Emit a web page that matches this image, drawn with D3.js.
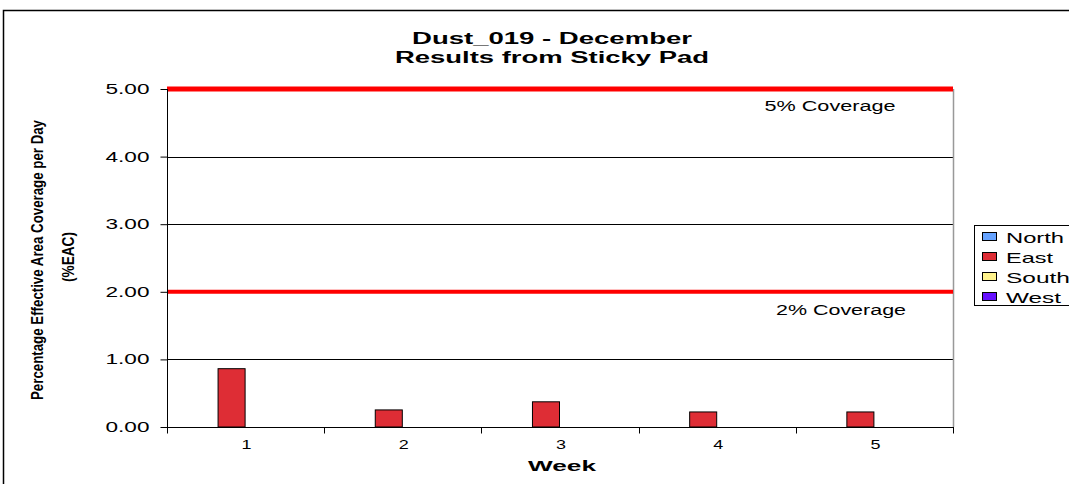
<!DOCTYPE html>
<html>
<head>
<meta charset="utf-8">
<script src="https://cdn.jsdelivr.net/npm/d3@7"></script>
<style>
  html, body { margin: 0; padding: 0; background: #fff; }
  svg { display: block; font-family: "Liberation Sans", Arial, sans-serif; }
</style>
</head>
<body>
<svg id="chart" width="1069" height="484"></svg>
<script>
const weeks = ["1", "2", "3", "4", "5"];
const seriesNames = ["North", "East", "South", "West"];
const seriesColors = ["#66a3ff", "#de2d35", "#fff38c", "#6611ff"];
const north = [0, 0, 0, 0, 0];
const east = [0.87, 0.26, 0.38, 0.23, 0.23];
const south = [0, 0, 0, 0, 0];
const west = [0, 0, 0, 0, 0];
const yTicks = [0, 1, 2, 3, 4, 5];
const thresholds = [
  { value: 5, label: "5% Coverage" },
  { value: 2, label: "2% Coverage" }
];
const titleLines = ["Dust_019 - December", "Results from Sticky Pad"];
const yTitleLines = ["Percentage Effective Area Coverage per Day", "(%EAC)"];
const xTitle = "Week";

const seriesValues = [north, east, south, west];

const svg = d3.select("#chart");
const plot = { left: 167, right: 953, top: 89, bottom: 427 };

function stretch(sel, len) {
  return sel.attr("textLength", len).attr("lengthAdjust", "spacingAndGlyphs");
}

// outer border
svg.append("rect").attr("x", 3.5).attr("y", 10.5).attr("width", 1080).attr("height", 500)
  .attr("fill", "none").attr("stroke", "#000").attr("stroke-width", 1.5);

const x = d3.scaleBand().domain(weeks).range([plot.left, plot.right]).padding(0);
const y = d3.scaleLinear().domain([0, 5]).range([plot.bottom, plot.top]);
const bandInner = x.bandwidth() * (112 / 157);
const xs = d3.scaleBand().domain(seriesNames).range([0, bandInner]).padding(0);

// gridlines
svg.append("g").selectAll("line").data(yTicks.filter(d => d > 0 && d < 5)).join("line")
  .attr("x1", plot.left).attr("x2", plot.right)
  .attr("y1", d => Math.round(y(d)) + 0.5).attr("y2", d => Math.round(y(d)) + 0.5)
  .attr("stroke", "#000").attr("stroke-width", 1);

// right border of plot
svg.append("line").attr("x1", plot.right + 0.5).attr("x2", plot.right + 0.5)
  .attr("y1", plot.top).attr("y2", plot.bottom).attr("stroke", "#999").attr("stroke-width", 1.5);

// bars
seriesNames.forEach((name, si) => {
  svg.append("g").selectAll("rect").data(weeks.map((w, i) => ({ w, v: seriesValues[si][i] })).filter(d => d.v > 0))
    .join("rect")
    .attr("x", d => x(d.w) + (x.bandwidth() - bandInner) / 2 + xs(name) + 0.5)
    .attr("y", d => y(d.v) + 0.5)
    .attr("width", xs.bandwidth() - 1)
    .attr("height", d => y(0) - y(d.v) - 0.5)
    .attr("fill", seriesColors[si])
    .attr("stroke", "#000").attr("stroke-width", 1);
});

// threshold lines
thresholds.forEach(t => {
  svg.append("line").attr("x1", plot.left).attr("x2", plot.right)
    .attr("y1", y(t.value)).attr("y2", y(t.value))
    .attr("stroke", "#ff0000").attr("stroke-width", t.value === 5 ? 5 : 4);
});
stretch(svg.append("text").attr("x", 830).attr("y", y(5) + 22).attr("text-anchor", "middle")
  .attr("font-size", 14).text(thresholds[0].label), 131);
stretch(svg.append("text").attr("x", 841).attr("y", y(2) + 23).attr("text-anchor", "middle")
  .attr("font-size", 14).text(thresholds[1].label), 130);

// y axis
const yAxis = d3.axisLeft(y).tickValues(yTicks).tickFormat(d3.format(".2f")).tickSize(7).tickPadding(11);
const gy = svg.append("g").attr("transform", `translate(${plot.left + 0.5},0)`).call(yAxis);
gy.select(".domain").attr("stroke", "#000").attr("d", `M0,${plot.top}V${plot.bottom}`);
gy.selectAll(".tick line").attr("stroke", "#000");
gy.selectAll(".tick text").attr("font-size", 14).attr("fill", "#000")
  .attr("font-family", "Liberation Sans, Arial, sans-serif")
  .attr("textLength", 44).attr("lengthAdjust", "spacingAndGlyphs");

// x axis
const gx = svg.append("g").attr("transform", `translate(0,${plot.bottom + 0.5})`);
gx.append("line").attr("x1", plot.left).attr("x2", plot.right + 1).attr("y1", 0).attr("y2", 0).attr("stroke", "#000");
const bounds = weeks.map(w => x(w)).concat([x(weeks[weeks.length - 1]) + x.bandwidth()]);
gx.selectAll("line.tk").data(bounds).join("line").attr("class", "tk")
  .attr("x1", d => Math.round(d) + 0.5).attr("x2", d => Math.round(d) + 0.5)
  .attr("y1", 0).attr("y2", 6).attr("stroke", "#000");
gx.selectAll("text").data(weeks).join("text")
  .attr("x", d => x(d) + x.bandwidth() / 2 + 1).attr("y", 21)
  .attr("text-anchor", "middle").attr("font-size", 13)
  .attr("textLength", 10).attr("lengthAdjust", "spacingAndGlyphs").text(d => d);

// titles
stretch(svg.append("text").attr("x", 552).attr("y", 44).attr("text-anchor", "middle")
  .attr("font-size", 16).attr("font-weight", "bold").text(titleLines[0]), 280);
stretch(svg.append("text").attr("x", 552).attr("y", 63).attr("text-anchor", "middle")
  .attr("font-size", 16).attr("font-weight", "bold").text(titleLines[1]), 314);

stretch(svg.append("text").attr("x", 562).attr("y", 471).attr("text-anchor", "middle")
  .attr("font-size", 15).attr("font-weight", "bold").text(xTitle), 68);

stretch(svg.append("text").attr("transform", "translate(43,260) rotate(-90)").attr("text-anchor", "middle")
  .attr("font-size", 17).attr("font-weight", "bold").text(yTitleLines[0]), 280);
stretch(svg.append("text").attr("transform", "translate(74,257) rotate(-90)").attr("text-anchor", "middle")
  .attr("font-size", 17).attr("font-weight", "bold").text(yTitleLines[1]), 50);

// legend
const lg = svg.append("g");
lg.append("rect").attr("x", 974.5).attr("y", 225.5).attr("width", 110).attr("height", 80)
  .attr("fill", "#fff").attr("stroke", "#000").attr("stroke-width", 1);
const legendWidths = [58, 47, 64, 55];
seriesNames.forEach((name, i) => {
  const cy = 237 + i * 20;
  lg.append("rect").attr("x", 982.5).attr("y", cy - 4.5).attr("width", 14).attr("height", 8)
    .attr("fill", seriesColors[i]).attr("stroke", "#000").attr("stroke-width", 1);
  stretch(lg.append("text").attr("x", 1006).attr("y", cy + 5.5).attr("font-size", 15).text(name), legendWidths[i]);
});
</script>
</body>
</html>
